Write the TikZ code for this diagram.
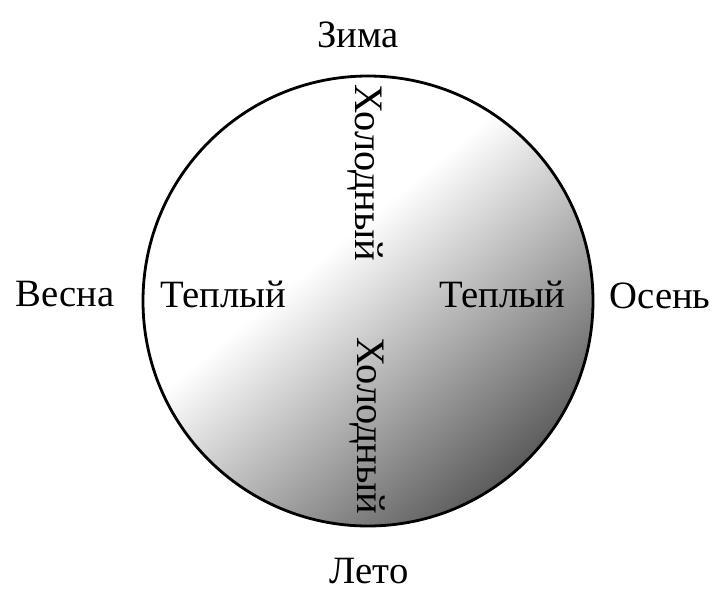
\documentclass[tikz,border=0pt]{standalone}
\usepackage{fontspec}
\setmainfont{Liberation Serif}
\usetikzlibrary{positioning}
\pgfdeclarehorizontalshading{yearshade}{100bp}{color(0bp)=(white); color(43bp)=(white); color(84bp)=(black!82); color(100bp)=(black!82)}
\tikzset{
  seasonlabel/.style={font=\fontsize{22}{26}\selectfont, anchor=base, inner sep=0pt},
  warmlabel/.style={seasonlabel},
  coldlabel/.style={seasonlabel, font=\fontsize{23}{28}\selectfont, rotate=-90}
}

\begin{document}
\begin{tikzpicture}
\useasboundingbox (-7.36,-5.98) rectangle (7.2,6.02);
%wheel
\shade[shading=yearshade, shading angle=-50] (0,0) circle (4.5);
\draw[black, line width=1.6pt] (0,0) circle (4.5);
%seasons
\node[seasonlabel] (winter) at (-0.2,5.08) {Зима};
\node[seasonlabel] (summer) at (0.02,-5.64) {Лето};
\node[seasonlabel] (spring) at (-6.06,-0.1) {Весна};
\node[seasonlabel] (autumn) at (5.84,-0.14) {Осень};
%inside
\node[warmlabel] (warmW) at (-2.9,-0.12) {Теплый};
\node[warmlabel] (warmE) at (2.68,-0.12) {Теплый};
\node[coldlabel] (coldN) at (-0.26,2.56) {Холодный};
\node[coldlabel] (coldS) at (-0.22,-2.5) {Холодный};
\end{tikzpicture}
\end{document}
